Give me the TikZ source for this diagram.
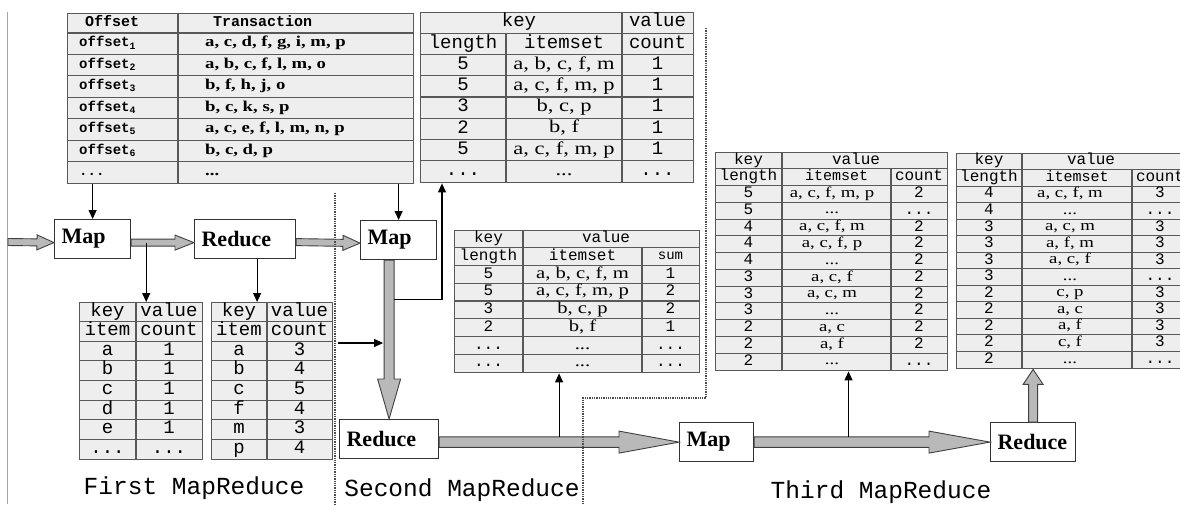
\documentclass[tikz,border=0pt]{standalone}
\usepackage{fontspec}
\setmainfont{Liberation Serif}
\setmonofont{Liberation Mono}
\newfontfamily\itemfont[FakeStretch=1.25]{Liberation Serif}
\usetikzlibrary{arrows.meta,calc}

\newcommand{\tabsize}[1]{\fontsize{#1}{#1}\selectfont}
\newcommand{\threedots}{.{}.{}.}
% hollow block arrow: start, end, half shaft, half head, head length
\newcommand{\fatarrow}[5]{%
  \path (#1) coordinate (fa-s) (#2) coordinate (fa-e);
  \path ($(fa-e)!#5!(fa-s)$) coordinate (fa-c);
  \filldraw[fat] ($(fa-s)!#3!90:(fa-e)$) -- ($(fa-c)!#3!90:(fa-e)$)
    -- ($(fa-c)!#4!90:(fa-e)$) -- (fa-e) -- ($(fa-c)!#4!-90:(fa-e)$)
    -- ($(fa-c)!#3!-90:(fa-e)$) -- ($(fa-s)!#3!-90:(fa-e)$) -- cycle;}

\begin{document}
\begin{tikzpicture}[x=1pt,y=-1pt,
box/.style={draw=black!80,line width=1.2pt,fill=white,inner xsep=7pt,align=left,minimum height=39pt,font=\bfseries\tabsize{22}},
tbl/.style={draw=black!65,line width=1.4pt,fill=gray!13,inner sep=0pt},
grid/.style={black!65,line width=1.1pt},
fat/.style={draw=black!75,fill=gray!55,line width=0.9pt},
arr/.style={-{Triangle[length=9pt,width=8pt]},line width=1.1pt},
sep/.style={black!70,densely dotted,line width=1.3pt},
t14/.style={font=\ttfamily\tabsize{14},inner sep=0pt,text height=8.7pt,text depth=2.4pt},
t15/.style={font=\ttfamily\tabsize{15},inner sep=0pt,text height=9.3pt,text depth=2.6pt},
t16/.style={font=\ttfamily\tabsize{16},inner sep=0pt,text height=9.9pt,text depth=2.7pt},
t19/.style={font=\ttfamily\tabsize{19},inner sep=0pt,text height=11.8pt,text depth=3.2pt},
s15/.style={font=\itemfont\tabsize{15},inner sep=0pt,text height=9.5pt,text depth=3pt},
s16/.style={font=\itemfont\tabsize{16.5},inner sep=0pt,text height=10.5pt,text depth=3.3pt},
s18/.style={font=\itemfont\tabsize{18},inner sep=0pt,text height=11.5pt,text depth=3.6pt},
jobcap/.style={font=\ttfamily\tabsize{24.5}}]
\useasboundingbox (0,0) rectangle (1180,504);
\clip (0,0) rectangle (1180,504);
\fill[white] (0,0) rectangle (1180,504);
\draw[black!35,line width=1pt] (7,12) -- (7,504);

% transactions
\node[tbl,anchor=north west,minimum width=346,minimum height=170] (trans) at (67,13) {};
\foreach \i in {0,...,6} \draw[grid] (67,{33+21.43*\i}) -- (413,{33+21.43*\i});
\draw[grid] (178,13) -- (178,183);
\node[t15,anchor=west] (trans-h1) at (85,23) {\bfseries Offset};
\node[t15,anchor=west] (trans-h2) at (213,23) {\bfseries Transaction};
\foreach \lab/\items [count=\i from 0] in {offset\textsubscript{1}/{a, c, d, f, g, i, m, p},
  offset\textsubscript{2}/{a, b, c, f, l, m, o}, offset\textsubscript{3}/{b, f, h, j, o},
  offset\textsubscript{4}/{b, c, k, s, p}, offset\textsubscript{5}/{a, c, e, f, l, m, n, p},
  offset\textsubscript{6}/{b, c, d, p}, \threedots/\threedots}
{
  \node[t14,anchor=west] (trans-\i-a) at (79,{43.7+21.43*\i}) {\bfseries\lab};
  \node[s15,anchor=west] (trans-\i-b) at (205,{43.7+21.43*\i}) {\bfseries\items};
}

% output of the second map
\node[tbl,anchor=north west,minimum width=273,minimum height=170] (mapout) at (420,12) {};
\foreach \i in {1,...,7} \draw[grid] (420,{12+21.25*\i}) -- (693,{12+21.25*\i});
\draw[grid] (622,12) -- (622,182) (506,33.25) -- (506,182);
\node[t19] (mapout-key) at (519,22.6) {key};
\node[t19] (mapout-val) at (657.5,22.6) {value};
\node[t19] (mapout-1-a) at (463,43.9) {length};
\node[t19] (mapout-1-b) at (564,43.9) {itemset};
\node[t19] (mapout-1-c) at (657.5,43.9) {count};
\foreach \a/\b/\c [count=\i from 2] in {5/{a, b, c, f, m}/1, 5/{a, c, f, m, p}/1, 3/{b, c, p}/1,
  2/{b, f}/1, 5/{a, c, f, m, p}/1, \threedots/\threedots/\threedots}
{
  \node[t19] (mapout-\i-a) at (463,{22.6+21.25*\i}) {\a};
  \node[s18] (mapout-\i-b) at (564,{22.6+21.25*\i}) {\b};
  \node[t19] (mapout-\i-c) at (657.5,{22.6+21.25*\i}) {\c};
}

% item counts of the first job
\node[tbl,anchor=north west,minimum width=123,minimum height=157] (itemcnt) at (79,302) {};
\foreach \i in {1,...,7} \draw[grid] (79,{302+19.625*\i}) -- (202,{302+19.625*\i});
\draw[grid] (136,302) -- (136,459);
\foreach \a/\b [count=\i from 0] in {key/value,item/count,a/1,b/1,c/1,d/1,e/1,\threedots/\threedots}
{
  \node[t19] (itemcnt-\i-a) at (107.5,{311.8+19.625*\i}) {\a};
  \node[t19] (itemcnt-\i-b) at (169,{311.8+19.625*\i}) {\b};
}
\node[tbl,anchor=north west,minimum width=121,minimum height=157] (itemsum) at (211,302) {};
\foreach \i in {1,...,7} \draw[grid] (211,{302+19.625*\i}) -- (332,{302+19.625*\i});
\draw[grid] (267,302) -- (267,459);
\foreach \a/\b [count=\i from 0] in {key/value,item/count,a/3,b/4,c/5,f/4,m/3,p/4}
{
  \node[t19] (itemsum-\i-a) at (239,{311.8+19.625*\i}) {\a};
  \node[t19] (itemsum-\i-b) at (299.5,{311.8+19.625*\i}) {\b};
}

% sums of the second job
\node[tbl,anchor=north west,minimum width=245,minimum height=142] (sumtab) at (454,230) {};
\foreach \i in {1,...,7} \draw[grid] (454,{230+17.75*\i}) -- (699,{230+17.75*\i});
\draw[grid] (523,230) -- (523,372) (642,247.75) -- (642,372);
\node[t16] (sumtab-key) at (488.5,238.9) {key};
\node[t16] (sumtab-val) at (606,238.9) {value};
\node[t16] (sumtab-1-a) at (488.5,256.6) {length};
\node[t16] (sumtab-1-b) at (582.5,256.6) {itemset};
\node[t14] (sumtab-1-c) at (670.5,256.6) {sum};
\foreach \a/\b/\c [count=\i from 2] in {5/{a, b, c, f, m}/1, 5/{a, c, f, m, p}/2, 3/{b, c, p}/2,
  2/{b, f}/1, \threedots/\threedots/\threedots, \threedots/\threedots/\threedots}
{
  \node[t16] (sumtab-\i-a) at (488.5,{238.9+17.75*\i}) {\a};
  \node[s16] (sumtab-\i-b) at (582.5,{238.9+17.75*\i}) {\b};
  \node[t16] (sumtab-\i-c) at (670.5,{238.9+17.75*\i}) {\c};
}

% output of the third map
\node[tbl,anchor=north west,minimum width=232,minimum height=218] (map3out) at (715,152) {};
\foreach \i in {1,...,12} \draw[grid] (715,{152+16.77*\i}) -- (947,{152+16.77*\i});
\draw[grid] (782,152) -- (782,370) (891,168.77) -- (891,370);
\node[t16] (map3out-key) at (748.5,160.4) {key};
\node[t16] (map3out-val) at (856,160.4) {value};
\node[t16] (map3out-1-a) at (748.5,177.2) {length};
\node[t15] (map3out-1-b) at (836.5,177.2) {itemset};
\node[t16] (map3out-1-c) at (919,177.2) {count};
\foreach \a/\b/\c [count=\i from 2] in {5/{a, c, f, m, p}/2, 5/\threedots/\threedots, 4/{a, c, f, m}/2,
  4/{a, c, f, p}/2, 4/\threedots/2, 3/{a, c, f}/2, 3/{a, c, m}/2, 3/\threedots/2, 2/{a, c}/2,
  2/{a, f}/2, 2/\threedots/\threedots}
{
  \node[t16] (map3out-\i-a) at (748.5,{160.4+16.77*\i}) {\a};
  \node[s15] (map3out-\i-b) at (832,{160.4+16.77*\i}) {\b};
  \node[t16] (map3out-\i-c) at (919,{160.4+16.77*\i}) {\c};
}

% frequent itemsets
\node[tbl,anchor=north west,minimum width=234,minimum height=215] (freq) at (956,153) {};
\foreach \i in {1,...,12} \draw[grid] (956,{153+16.54*\i}) -- (1190,{153+16.54*\i});
\draw[grid] (1022,153) -- (1022,368) (1132,169.54) -- (1132,368);
\node[t16] (freq-key) at (989,161.3) {key};
\node[t16] (freq-val) at (1091,161.3) {value};
\node[t16] (freq-1-a) at (989,177.8) {length};
\node[t15] (freq-1-b) at (1077,177.8) {itemset};
\node[t16] (freq-1-c) at (1160,177.8) {count};
\foreach \a/\b/\c [count=\i from 2] in {4/{a, c, f, m}/3, 4/\threedots/\threedots, 3/{a, c, m}/3,
  3/{a, f, m}/3, 3/{a, c, f}/3, 3/\threedots/\threedots, 2/{c, p}/3, 2/{a, c}/3, 2/{a, f}/3,
  2/{c, f}/3, 2/\threedots/\threedots}
{
  \node[t16] (freq-\i-a) at (989,{161.3+16.54*\i}) {\a};
  \node[s15] (freq-\i-b) at (1070,{161.3+16.54*\i}) {\b};
  \node[t16] (freq-\i-c) at (1160,{161.3+16.54*\i}) {\c};
}

% jobs
\node[box,anchor=north west,text width=62pt] (map1) at (54,219) {Map};
\node[box,anchor=north west,text width=87pt] (reduce1) at (194,219) {Reduce};
\node[box,anchor=north west,text width=62pt] (map2) at (360,220) {Map};
\node[box,anchor=north west,text width=85pt] (reduce2) at (339,419) {Reduce};
\node[box,anchor=north west,text width=60pt] (map3) at (679,422) {Map};
\node[box,anchor=north west,text width=71pt] (reduce3) at (990,422) {Reduce};

\coordinate (in) at (8,242);
\fatarrow{in}{$(map1.west)+(0,3.5)$}{3.5pt}{7.5pt}{17pt}
\fatarrow{$(map1.east)+(0,3.5)$}{$(reduce1.west)+(0,3.5)$}{3.5pt}{7.5pt}{19pt}
\fatarrow{$(reduce1.east)+(0,3)$}{$(map2.west)+(0,3)$}{3.5pt}{7.5pt}{17pt}
\fatarrow{reduce2.north |- map2.south}{reduce2.north}{5pt}{11.5pt}{40pt}
\fatarrow{reduce2.east |- map3.west}{map3.west}{5.3pt}{11pt}{60pt}
\fatarrow{map3.east}{reduce3.west}{5.3pt}{11pt}{61pt}
\fatarrow{reduce3.north}{reduce3.north |- freq.south}{4.5pt}{10pt}{15pt}

\draw[arr] (map1.north |- trans.south) -- (map1.north);
\draw[arr] (map2.north |- trans.south) -- (map2.north);
\coordinate (split1) at ($(map1.east)+(15,3.5)$);
\draw[arr] (split1) -- (split1 |- itemcnt.north);
\coordinate (split2) at ($(reduce1.south)+(12,0)$);
\draw[arr] (split2) -- (split2 |- itemsum.north);
\coordinate (split3) at ($(reduce2.north |- map2.south)+(5,39)$);
\draw[arr] (split3) -| ($(mapout.south west)+(22,0)$);
\coordinate (shaftl) at ($(reduce2.north)+(-6,0)$);
\coordinate (join1) at ($(itemsum.north east)+(5,41)$);
\draw[arr] (join1) -- (join1 -| shaftl);
\coordinate (split4) at ($(reduce2.east |- map3.west)!0.5!(map3.west)+(0,-5.3)$);
\draw[arr] (split4) -- (split4 |- sumtab.south);
\coordinate (split5) at ($(map3.east)!0.4!(reduce3.west)+(0,-5.3)$);
\draw[arr] (split5) -- (split5 |- map3out.south);

\draw[sep] (335,193) -- (335,504);
\draw[sep] (706,28) -- (706,398) -- (583,398) -- (583,504);

\node[jobcap] (cap1) at (194,488) {First MapReduce};
\node[jobcap] (cap2) at (462,490) {Second MapReduce};
\node[jobcap] (cap3) at (881,492) {Third MapReduce};
\end{tikzpicture}
\end{document}
